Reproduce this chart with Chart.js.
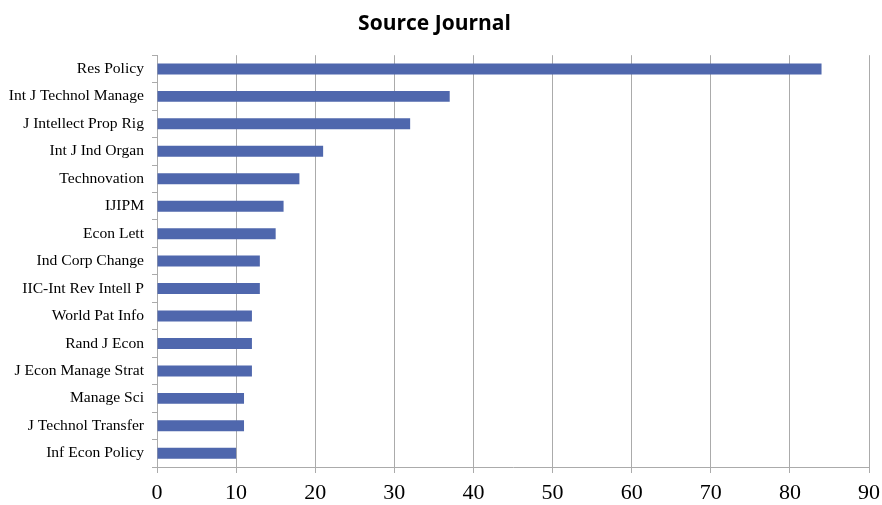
<!DOCTYPE html>
<html lang="en">
<head>
    <meta charset="UTF-8">
    <title>Source Journal</title>
    <script src="https://cdn.jsdelivr.net/npm/chart.js"></script>
    <style>
        html, body { margin: 0; padding: 0; background: #fff; }
        #wrap { width: 882px; height: 505px; }
    </style>
</head>
<body>
    <div id="wrap"><canvas id="journalChart" width="882" height="505"></canvas></div>

    <script>
        var journals = ['Res Policy', 'Int J Technol Manage', 'J Intellect Prop Rig', 'Int J Ind Organ',
            'Technovation', 'IJIPM', 'Econ Lett', 'Ind Corp Change', 'IIC-Int Rev Intell P',
            'World Pat Info', 'Rand J Econ', 'J Econ Manage Strat', 'Manage Sci',
            'J Technol Transfer', 'Inf Econ Policy'];
        var counts = [84, 37, 32, 21, 18, 16, 15, 13, 13, 12, 12, 12, 11, 11, 10];
        var xTicks = [0, 10, 20, 30, 40, 50, 60, 70, 80, 90];

        var ctx = document.getElementById('journalChart').getContext('2d');
        new Chart(ctx, {
            type: 'bar',
            data: {
                labels: journals,
                datasets: [{
                    data: counts,
                    backgroundColor: '#4F67AD',
                    borderWidth: 0,
                    barPercentage: 0.8,
                    categoryPercentage: 0.5
                }]
            },
            options: {
                indexAxis: 'y',
                responsive: false,
                animation: false,
                layout: { padding: { top: 4, right: 13, left: 0, bottom: 0 } },
                plugins: {
                    legend: { display: false },
                    tooltip: { enabled: false },
                    title: {
                        display: true,
                        text: 'Source Journal',
                        color: '#000',
                        font: { family: 'Open Sans', size: 21, weight: 'bold' },
                        padding: { top: 7, bottom: 19 }
                    }
                },
                scales: {
                    x: {
                        min: 0,
                        max: 90,
                        afterBuildTicks: function (axis) {
                            axis.ticks = xTicks.map(function (v) { return { value: v }; });
                        },
                        afterFit: function (axis) {
                            axis.height = 38;
                            axis.paddingRight = 0;
                        },
                        grid: { color: '#ABABAB', lineWidth: 1, tickLength: 6 },
                        border: { color: '#ABABAB' },
                        ticks: {
                            color: '#000',
                            padding: 7,
                            font: { family: 'Liberation Serif', size: 22 }
                        }
                    },
                    y: {
                        afterFit: function (axis) { axis.width = 157; },
                        grid: { drawOnChartArea: false, color: '#ABABAB', tickLength: 5, offset: true },
                        border: { color: '#ABABAB' },
                        ticks: {
                            color: '#000',
                            padding: 8,
                            font: { family: 'Liberation Serif', size: 15.6 }
                        }
                    }
                }
            }
        });
    </script>
</body>
</html>
